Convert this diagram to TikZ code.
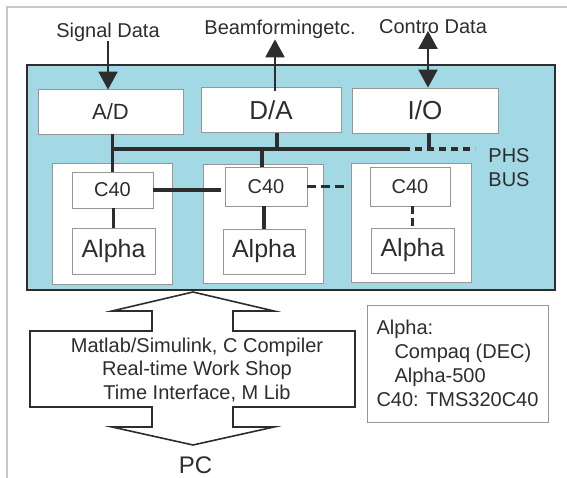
\documentclass[tikz,border=0pt]{standalone}
\usepackage{fontspec}
\setmainfont{Liberation Sans}
\usetikzlibrary{arrows.meta}
\definecolor{cyanbg}{RGB}{163,217,229}
\definecolor{ink}{RGB}{45,45,45}
\definecolor{boxgray}{RGB}{150,150,150}
\definecolor{framegray}{RGB}{200,200,200}
\begin{document}
\begin{tikzpicture}[x=1pt,y=-1pt,
  lbl/.style={inner sep=0pt, text=ink, font=\fontsize{20}{24}\selectfont},
  wbox/.style={draw=boxgray, line width=0.8pt, fill=white, inner sep=0pt, text=ink},
  boardbox/.style={draw=ink, line width=1.6pt, fill=cyanbg, inner sep=0pt, minimum width=528pt, minimum height=225pt},
  cardbox/.style={wbox, minimum width=120pt, minimum height=120pt},
  cbox/.style={wbox, minimum width=81pt, minimum height=37pt, font=\fontsize{20}{24}\selectfont},
  abox/.style={wbox, minimum width=83pt, minimum height=45pt, font=\fontsize{25}{30}\selectfont},
  iobox/.style={wbox, minimum height=45pt},
  bus/.style={draw=ink, line width=3.5pt},
  dbus/.style={draw=ink, line width=3.5pt, dash pattern=on 9pt off 5pt},
  arr/.style={draw=ink, line width=2.2pt, -{Triangle[width=19pt,length=18pt]}},
  arrtwo/.style={draw=ink, line width=2.2pt, {Triangle[width=19pt,length=18pt]}-{Triangle[width=19pt,length=18pt]}},
  fatarrow/.style={draw=ink, line width=1.6pt, fill=white, line join=miter}
]
\useasboundingbox (0,0) rectangle (567,478);
% outer frame
\draw[framegray, line width=1.5pt] (7,478) -- (7,7) -- (567,7);

% board
\node[boardbox] (board) at (291,177.5) {};

% top boxes
\node[iobox, minimum width=145pt, font=\fontsize{22}{26}\selectfont] (ad) at (110.5,111.5) {A/D};
\node[iobox, minimum width=140pt, font=\fontsize{26}{30}\selectfont] (da) at (271,110) {D/A};
\node[iobox, minimum width=146pt, font=\fontsize{26}{30}\selectfont] (io) at (425,110.5) {I/O};

% cards
\node[cardbox, minimum height=121pt] (k1) at (112,223.5) {};
\node[cardbox, minimum height=119pt] (k2) at (263,223.5) {};
\node[cardbox, minimum height=119pt] (k3) at (411,222.5) {};

\node[cbox, minimum height=36pt] (c1) at (112.5,190) {C40};
\node[cbox, minimum width=82pt, minimum height=39pt] (c2) at (266,186.5) {C40};
\node[cbox, minimum width=80pt, minimum height=39pt] (c3) at (410,186.5) {C40};

\node[abox, minimum height=46pt] (a1) at (113.5,251) {Alpha};
\node[abox, minimum width=82pt] (a2) at (264,251.5) {Alpha};
\node[abox] (a3) at (412.5,250.5) {Alpha};

% bus coordinates
\coordinate (busL) at (112.5,149);
\coordinate (busS) at (410,149);
\coordinate (busE) at (475,149);
\coordinate (busDA) at (277,149);
\coordinate (busK2) at (262,149);
\coordinate (busIO) at (429,149);

\draw[bus] (busL) -- (busS);
\draw[bus, dash pattern=on 7pt off 5pt, dash phase=7pt] (busS) -- (busE);
\draw[bus] (c1.north |- ad.south) -- (c1.north);
\draw[bus] (busDA |- da.south) -- (busDA);
\draw[bus] (busK2) -- (busK2 |- c2.north);
\draw[bus] (busIO |- io.south) -- (busIO);

% card links
\draw[bus] (c1.east) -- ([xshift=-4pt]c1.east -| c2.west);
\draw[dbus] (c2.east) -- ([xshift=-2pt]c2.east -| k3.west);
\draw[bus] (a1.north |- c1.south) -- (a1.north);
\draw[bus] (a2.north |- c2.south) -- (a2.north);
\draw[bus, dash pattern=on 8pt off 4pt] (c3.south -| a3.north) -- (a3.north);

\node[lbl, align=center] (phs) at (509,167.9) {PHS\\BUS};

% top labels and arrows
\node[lbl, anchor=base] (sig) at (108,37.3) {Signal Data};
\node[lbl, anchor=base] (beam) at (280,35) {Beamformingetc.};
\node[lbl, anchor=base] (ctl) at (433,33.5) {Contro Data};
\coordinate (bx) at (275,0);
\coordinate (cx) at (428,0);
\draw[arr] ([yshift=1pt]sig.south) -- ([yshift=-1pt]sig.south |- ad.north);
\draw[arr] ([yshift=-4pt]da.north -| bx) -- (beam.south -| bx);
\draw[arrtwo] (io.north -| cx) -- ([yshift=3pt]ctl.south -| cx);

% big double arrow to PC
\draw[fatarrow] (193,292) -- (274,311) -- (233,311) -- (233,331) -- (355,331) -- (355,407)
  -- (233,407) -- (233,427) -- (274,427) -- (193,445) -- (112,427) -- (152,427)
  -- (152,407) -- (30,407) -- (30,331) -- (152,331) -- (152,311) -- (112,311) -- cycle;
\node[lbl, align=center, font=\fontsize{20}{23.5}\selectfont] (sw) at (197,369.7)
  {Matlab/Simulink, C Compiler\\Real-time Work Shop\\Time Interface, M Lib};
\node[lbl, anchor=base, font=\fontsize{24}{28}\selectfont] (pc) at (195.5,473) {PC};

% legend
\node[wbox, align=left, minimum width=181pt, minimum height=117pt, font=\fontsize{20}{24}\selectfont] (leg) at (457.5,363.5)
  {Alpha:\\\hspace*{18pt}Compaq (DEC)\\\hspace*{18pt}Alpha-500\\C40: TMS320C40};
\end{tikzpicture}
\end{document}
